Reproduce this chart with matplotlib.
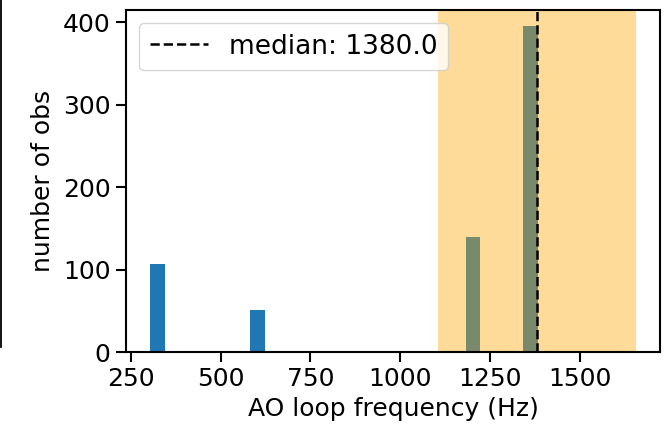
import matplotlib
matplotlib.use("Agg")
import matplotlib.pyplot as plt
from matplotlib.lines import Line2D

# histogram bins
bin_lefts = [304, 582, 1182, 1342]
counts = [107, 51, 140, 395]
bin_width = 40
median = 1380.0
band_lo = 0.8 * median
band_hi = 1.2 * median

plt.rcParams["font.size"] = 18

fig = plt.figure(figsize=(6.72, 4.32), dpi=100)
ax = fig.add_axes([0.1875, 0.185, 0.795, 0.792])

ax.bar(bin_lefts, counts, width=bin_width, align="edge", color="tab:blue")
ax.axvline(median, color="black", ls="--", lw=1.8, label=f"median: {median}")
ax.axvspan(band_lo, band_hi, color="orange", alpha=0.4, lw=0)

ax.set_xticks([250, 500, 750, 1000, 1250, 1500])
ax.set_yticks([0, 100, 200, 300, 400])
ax.set_xlabel("AO loop frequency (Hz)", labelpad=4)
ax.set_ylabel("number of obs", labelpad=6)
ax.tick_params(length=7, width=1.5, pad=4)
for s in ax.spines.values():
    s.set_linewidth(1.5)
ax.legend(loc="upper left", fontsize=19, handlelength=2.2)

# edge of the neighbouring panel, cut off in the source picture
fig.add_artist(Line2D([0.002, 0.002], [1 - 347 / 432, 1.0], color="black",
                      lw=1.3, transform=fig.transFigure))

fig.savefig("out.png", dpi=100)
